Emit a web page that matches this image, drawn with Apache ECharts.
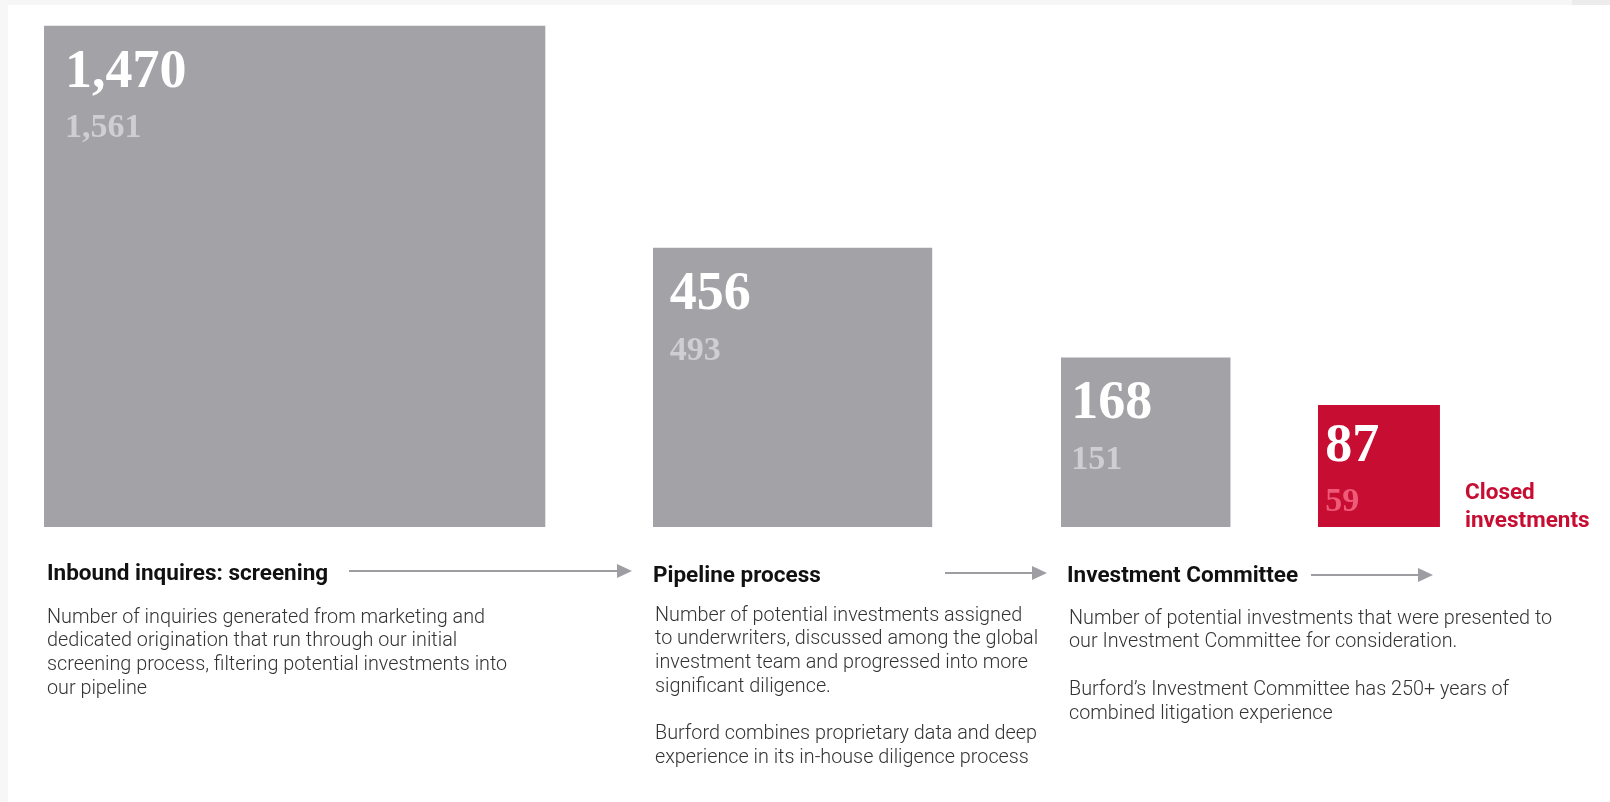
<!DOCTYPE html>
<html>
<head>
<meta charset="utf-8">
<script src="https://cdn.jsdelivr.net/npm/echarts@6/dist/echarts.min.js"></script>
<style>
  html, body { margin: 0; padding: 0; background: #ffffff; }
  #chart { width: 1610px; height: 802px; }
</style>
</head>
<body>
<div id="chart"></div>
<script>
// Investment funnel: stage counts for the current year and the prior year
const stages = ['Inbound inquires: screening', 'Pipeline process', 'Investment Committee', 'Closed investments'];
const currentCounts = [1470, 456, 168, 87];
const priorCounts = [1561, 493, 151, 59];
const descriptions = [
  ['Number of inquiries generated from marketing and',
   'dedicated origination that run through our initial',
   'screening process, filtering potential investments into',
   'our pipeline'],
  ['Number of potential investments assigned',
   'to underwriters, discussed among the global',
   'investment team and progressed into more',
   'significant diligence.',
   '',
   'Burford combines proprietary data and deep',
   'experience in its in-house diligence process'],
  ['Number of potential investments that were presented to',
   'our Investment Committee for consideration.',
   '',
   'Burford\u2019s Investment Committee has 250+ years of',
   'combined litigation experience']
];

// Layout: left edge of each stage column (px) and the arrows between headings
const COLUMN_X = [44, 653, 1061, 1318];
const HEADING_X = [47, 653, 1067];
const ARROWS = [[349, 632, 571], [945, 1047, 573], [1311, 1433, 575]];

const GREY = '#a3a2a7';
const RED = '#c70d32';

const chart = echarts.init(document.getElementById('chart'));
const fmt = v => Number(v).toLocaleString('en-US');

const seriesData = currentCounts.map((v, i) => [i, v, priorCounts[i]]);

function renderItem(params, api) {
  const i = api.value(0);
  const v = api.value(1);
  const p = api.value(2);
  // square area is proportional to the count: side comes from sqrt(count) on the y scale
  const side = api.size([0, Math.sqrt(v)])[1];
  const base = api.coord([COLUMN_X[i], 0]);
  const x = base[0];
  const y = base[1] - side;
  const padL = Math.min(21, side * 0.06);
  const padT = Math.min(20, side * 0.12);
  const last = i === currentCounts.length - 1;
  return {
    type: 'group',
    children: [
      { type: 'rect', shape: { x: x, y: y, width: side, height: side },
        style: { fill: last ? RED : GREY } },
      { type: 'text', x: x + padL, y: y + padT,
        style: { text: fmt(v), fill: '#ffffff', align: 'left', verticalAlign: 'top',
                 fontFamily: 'Liberation Serif', fontWeight: 'bold', fontSize: 54 } },
      { type: 'text', x: x + padL, y: y + padT + 66,
        style: { text: fmt(p), fill: last ? '#ef5a78' : '#cfced3', align: 'left', verticalAlign: 'top',
                 fontFamily: 'Liberation Serif', fontWeight: 'bold', fontSize: 34 } }
    ]
  };
}

const graphics = [
  // faint page edges
  { type: 'rect', shape: { x: 0, y: 0, width: 1610, height: 5 }, style: { fill: '#f6f6f6' }, silent: true },
  { type: 'rect', shape: { x: 1572, y: 0, width: 38, height: 5 }, style: { fill: '#ececec' }, silent: true },
  { type: 'rect', shape: { x: 0, y: 0, width: 8, height: 802 }, style: { fill: '#f7f7f7' }, silent: true }
];

// stage headings
stages.slice(0, 3).forEach((name, i) => {
  graphics.push({
    type: 'text', x: HEADING_X[i], y: [574, 576, 576][i],
    style: { text: name, fill: '#111111', fontFamily: 'Roboto', fontWeight: 'bold', fontSize: 22.5,
             align: 'left', verticalAlign: 'middle' }
  });
});
graphics.push({
  type: 'text', x: 1465, y: 479,
  style: { text: 'Closed\ninvestments', fill: RED, fontFamily: 'Roboto', fontWeight: 'bold', fontSize: 22.5,
           lineHeight: 28, align: 'left', verticalAlign: 'top' }
});

// arrows between stages
ARROWS.forEach(a => {
  graphics.push({ type: 'line', shape: { x1: a[0], y1: a[2], x2: a[1] - 12, y2: a[2] },
                  style: { stroke: '#9e9da2', lineWidth: 2 } });
  graphics.push({ type: 'polygon', shape: { points: [[a[1] - 15, a[2] - 7], [a[1], a[2]], [a[1] - 15, a[2] + 7]] },
                  style: { fill: '#9e9da2' } });
});

// stage descriptions
const DESC_POS = [[47, 606], [655, 604], [1069, 607]];
descriptions.forEach((lines, i) => {
  graphics.push({
    type: 'text', x: DESC_POS[i][0], y: DESC_POS[i][1],
    style: { text: lines.join('\n'), fill: '#333333', fontFamily: 'Roboto', fontWeight: 300, fontSize: 19.8,
             lineHeight: 23.7, align: 'left', verticalAlign: 'top' }
  });
});

chart.setOption({
  animation: false,
  backgroundColor: '#ffffff',
  grid: { left: 0, right: 0, top: 4, bottom: 275 },
  xAxis: { type: 'value', min: 0, max: 1610, show: false },
  yAxis: { type: 'value', min: 0, max: 40, show: false },
  series: [{
    type: 'custom',
    renderItem: renderItem,
    data: seriesData,
    encode: { x: 0, y: 1 },
    clip: false
  }],
  graphic: graphics
});
</script>
</body>
</html>
